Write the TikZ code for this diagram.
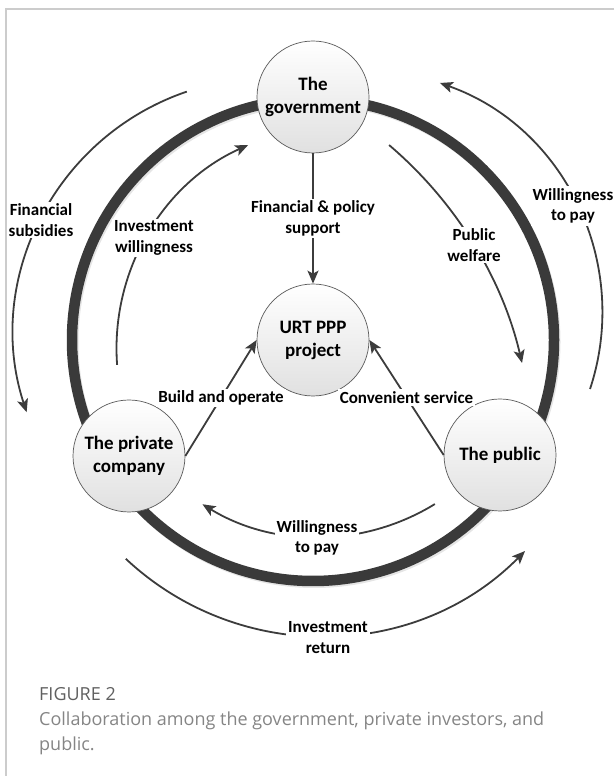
\documentclass[tikz,border=0pt]{standalone}
\usepackage{fontspec}
\setmainfont{Carlito}
\newfontfamily\captionfont{Open Sans}
\usepackage{tikz}
\usetikzlibrary{arrows.meta,calc}
\usepackage{tkz-euclide}
\usepackage{xcolor}
\definecolor{RingGray}{HTML}{3A3A3A}
\definecolor{ArrowGray}{HTML}{3C3C3C}
\definecolor{FrameGray}{HTML}{CCCCCC}
\definecolor{CaptionGray}{HTML}{858585}
\definecolor{FigureGray}{HTML}{606060}
\tikzset{
  actor/.style={circle,minimum size=112pt,inner sep=0pt,draw=black!65,line width=0.7pt,
    top color=white,bottom color=black!12,align=center,font=\fontsize{19}{23}\selectfont\bfseries},
  flow/.style={ArrowGray,line width=1.8pt,-{Stealth[length=13pt,width=11pt,inset=3pt]}},
  flowlabel/.style={fill=white,text=black,inner sep=2pt,align=center,font=\fontsize{17}{20.5}\selectfont\bfseries},
}

\begin{document}
\begin{tikzpicture}[x=1pt,y=1pt]
   \useasboundingbox (0,0) rectangle (614,776);
   \tkzDefPoints{313/679/g,313/436/u,129/320/p,500/321/q}
   \tkzDefPoints{269/443/fsO,339.5/427.5/iwO,358.6/463.3/wpO,124.5/320/pwO,318.5/461.1/ipO,321.4/426.1/irO}

   \draw[black!10,line width=10pt] ($(u)+(1.5,-2)$) circle[radius=241pt];
   \draw[RingGray,line width=10.5pt] (u) circle[radius=241pt];

   \draw[flow] ($(fsO)+(108.8:255pt)$) arc[start angle=108.8,end angle=198.1,radius=255pt];
   \draw[flow] ($(iwO)+(184.2:223pt)$) arc[start angle=184.2,end angle=114.2,radius=223pt];
   \draw[flow] ($(wpO)+(-18.25:243.7pt)$) arc[start angle=-18.25,end angle=70.5,radius=243.7pt];
   \draw[flow] ($(pwO)+(49.6:408.3pt)$) arc[start angle=49.6,end angle=13.17,radius=408.3pt];
   \draw[flow] ($(ipO)+(-58.4:222.1pt)$) arc[start angle=-58.4,end angle=-121.5,radius=222.1pt];
   \draw[flow] ($(irO)+(-133.1:286.2pt)$) arc[start angle=-133.1,end angle=-44.65,radius=286.2pt];

   \node[actor] (gov) at (g) {The\\government};
   \node[actor] (urt) at (u) {URT PPP\\project};
   \node[actor] (priv) at (p) {The private\\company};
   \node[actor] (pub) at (q) {The public};

   \draw[flow] (gov) -- node[flowlabel] (fps) {Financial \& policy\\support} (urt);
   \draw[flow] (priv.east) -- node[flowlabel] (bao) {Build and operate} (urt.west);
   \draw[flow] (pub.west) -- node[flowlabel] (cvs) {Convenient service} (urt.east);

   \node[flowlabel] (fsL) at (41,556) {Financial\\subsidies};
   \node[flowlabel] (iwL) at (154,538) {Investment\\willingness};
   \node[flowlabel] (wpL) at (573,570) {Willingness\\to pay};
   \node[flowlabel] (pwL) at (474,531) {Public\\welfare};
   \node[flowlabel] (ipL) at (317,238) {Willingness\\to pay};
   \node[flowlabel] (irL) at (328,138.5) {Investment\\return};

   \draw[FrameGray,line width=1.2pt] (614,767) -- (6,767) -- (6,0);

   \node[anchor=north west,inner sep=0pt,align=left,text=CaptionGray,
     font=\captionfont\fontsize{18}{25}\selectfont] (cap) at (39,89)
     {{\color{FigureGray}FIGURE 2}\\Collaboration among the government, private investors, and\\public.};
\end{tikzpicture}
\end{document}
